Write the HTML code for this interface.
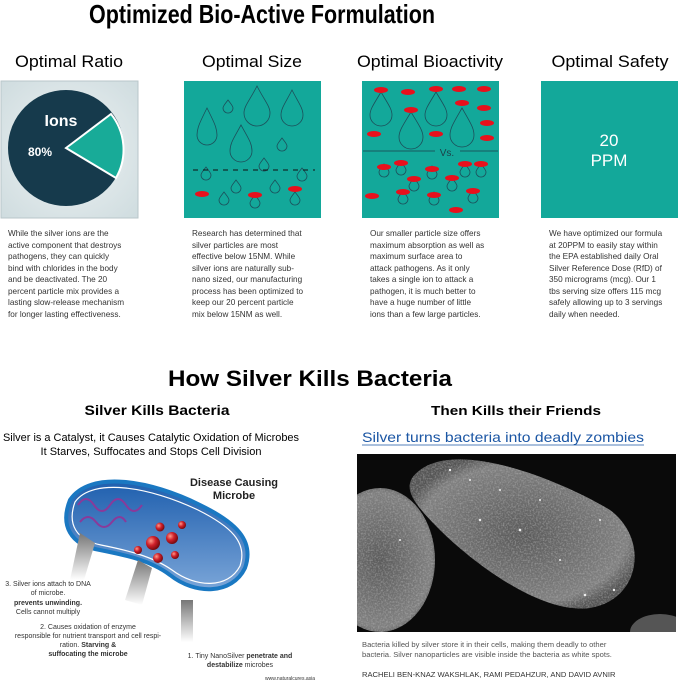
<!DOCTYPE html>
<html><head><meta charset="utf-8"><style>
html,body{margin:0;padding:0;background:#fff;}
svg{display:block;font-family:"Liberation Sans",sans-serif;}
.b{font-family:"Liberation Sans",sans-serif;font-size:8.2px;fill:#333;}
</style></head><body>
<svg width="679" height="682" viewBox="0 0 679 682" xmlns="http://www.w3.org/2000/svg">
<defs>
<radialGradient id="bg1" cx="50%" cy="50%" r="70%"><stop offset="0" stop-color="#eef3f4"/><stop offset="1" stop-color="#cfdcdf"/></radialGradient>
<linearGradient id="cell" x1="0" y1="0" x2="0" y2="1"><stop offset="0" stop-color="#1f5fae"/><stop offset="1" stop-color="#7aa5d8"/></linearGradient>
<radialGradient id="ball" cx="35%" cy="35%" r="65%"><stop offset="0" stop-color="#ff9a8a"/><stop offset="0.5" stop-color="#d0202a"/><stop offset="1" stop-color="#7a0a10"/></radialGradient>
<radialGradient id="bact" cx="50%" cy="50%" r="55%"><stop offset="0" stop-color="#5a5a5a"/><stop offset="0.85" stop-color="#808080"/><stop offset="1" stop-color="#555"/></radialGradient>
<linearGradient id="arr" x1="0" y1="0" x2="0" y2="1"><stop offset="0" stop-color="#777"/><stop offset="1" stop-color="#fff"/></linearGradient>
<filter id="grain" x="0" y="0" width="100%" height="100%"><feTurbulence type="fractalNoise" baseFrequency="0.6" numOctaves="2" seed="3"/><feColorMatrix type="matrix" values="0 0 0 0 0.5  0 0 0 0 0.5  0 0 0 0 0.5  0 0 0 1.2 -0.5"/><feComposite in2="SourceGraphic" operator="in"/></filter>
</defs>

<text x="262" y="23" font-size="26" font-weight="bold" text-anchor="middle" textLength="346" lengthAdjust="spacingAndGlyphs">Optimized Bio-Active Formulation</text>

<text x="69" y="67" font-size="17" text-anchor="middle" textLength="108" lengthAdjust="spacingAndGlyphs">Optimal Ratio</text>
<text x="252" y="67" font-size="17" text-anchor="middle" textLength="100" lengthAdjust="spacingAndGlyphs">Optimal Size</text>
<text x="430" y="67" font-size="17" text-anchor="middle" textLength="146" lengthAdjust="spacingAndGlyphs">Optimal Bioactivity</text>
<text x="610" y="67" font-size="17" text-anchor="middle" textLength="117" lengthAdjust="spacingAndGlyphs">Optimal Safety</text>

<!-- panel 1 -->
<rect x="1" y="81" width="137" height="137" fill="url(#bg1)" stroke="#b8c6ca"/>
<circle cx="66" cy="148" r="58" fill="#163a4c"/>
<path d="M66 148 L111 114 A57 57 0 0 1 116 178 Z" fill="#18ab98" stroke="#fff" stroke-width="2"/>
<text x="61" y="126" font-size="16" font-weight="bold" fill="#fff" text-anchor="middle">Ions</text>
<text x="40" y="156" font-size="12" font-weight="bold" fill="#fff" text-anchor="middle">80%</text>

<!-- panel 2 -->
<rect x="184" y="81" width="137" height="137" fill="#13a89a"/>
<g fill="none" stroke="#1d4f5a" stroke-width="0.8">
<path d="M257 86 C250 100 244 106 244 113 A13 13 0 0 0 270 113 C270 106 264 100 257 86Z"/>
<path d="M292 90 C286 102 281 108 281 115 A11 11 0 0 0 303 115 C303 108 298 102 292 90Z"/>
<path d="M207 108 C200 122 197 128 197 135 A10 10 0 0 0 217 135 C217 128 214 122 207 108Z"/>
<path d="M241 125 C234 138 230 143 230 151 A11 11 0 0 0 252 151 C252 143 248 138 241 125Z"/>
<path d="M228 100 c-3 4 -5 6 -5 8 a5 5 0 0 0 10 0 c0 -2 -2 -4 -5 -8z"/>
<path d="M282 138 c-3 4 -5 6 -5 8 a5 5 0 0 0 10 0 c0 -2 -2 -4 -5 -8z"/>
<path d="M264 158 c-3 4 -5 6 -5 8 a5 5 0 0 0 10 0 c0 -2 -2 -4 -5 -8z"/>
<path d="M206 167 c-3 4 -5 6 -5 8 a5 5 0 0 0 10 0 c0 -2 -2 -4 -5 -8z"/>
<path d="M302 168 c-3 4 -5 6 -5 8 a5 5 0 0 0 10 0 c0 -2 -2 -4 -5 -8z"/>
<path d="M236 180 c-3 4 -5 6 -5 8 a5 5 0 0 0 10 0 c0 -2 -2 -4 -5 -8z"/>
<path d="M275 180 c-3 4 -5 6 -5 8 a5 5 0 0 0 10 0 c0 -2 -2 -4 -5 -8z"/>
<path d="M224 192 c-3 4 -5 6 -5 8 a5 5 0 0 0 10 0 c0 -2 -2 -4 -5 -8z"/>
<path d="M255 195 c-3 4 -5 6 -5 8 a5 5 0 0 0 10 0 c0 -2 -2 -4 -5 -8z"/>
<path d="M295 192 c-3 4 -5 6 -5 8 a5 5 0 0 0 10 0 c0 -2 -2 -4 -5 -8z"/>
</g>
<line x1="193" y1="170" x2="315" y2="170" stroke="#111" stroke-width="1" stroke-dasharray="5,5"/>
<g fill="#e8101c"><ellipse cx="202" cy="194" rx="7" ry="3"/><ellipse cx="255" cy="195" rx="7" ry="3"/><ellipse cx="295" cy="189" rx="7" ry="3"/></g>

<!-- panel 3 -->
<rect x="362" y="81" width="137" height="137" fill="#13a89a"/>
<g fill="none" stroke="#1d4f5a" stroke-width="0.8">
<path d="M381 92 c-7 12 -11 17 -11 23 a11 11 0 0 0 22 0 c0 -6 -4 -11 -11 -23z"/>
<path d="M436 92 c-7 12 -11 17 -11 23 a11 11 0 0 0 22 0 c0 -6 -4 -11 -11 -23z"/>
<path d="M411 112 c-8 13 -12 19 -12 25 a12 12 0 0 0 24 0 c0 -6 -4 -12 -12 -25z"/>
<path d="M462 108 c-8 14 -12 20 -12 27 a12 12 0 0 0 24 0 c0 -7 -4 -13 -12 -27z"/>
</g>
<line x1="363" y1="151" x2="435" y2="151" stroke="#1d3f48" stroke-width="0.8"/>
<line x1="460" y1="151" x2="498" y2="151" stroke="#1d3f48" stroke-width="0.8"/>
<text x="447" y="156" font-size="10" fill="#1d3f48" text-anchor="middle">Vs.</text>
<g fill="none" stroke="#1d4f5a" stroke-width="0.8">
<path d="M384 164 c-3 4 -5 6 -5 8 a5 5 0 0 0 10 0 c0 -2 -2 -4 -5 -8z"/>
<path d="M401 162 c-3 4 -5 6 -5 8 a5 5 0 0 0 10 0 c0 -2 -2 -4 -5 -8z"/>
<path d="M432 166 c-3 4 -5 6 -5 8 a5 5 0 0 0 10 0 c0 -2 -2 -4 -5 -8z"/>
<path d="M414 178 c-3 4 -5 6 -5 8 a5 5 0 0 0 10 0 c0 -2 -2 -4 -5 -8z"/>
<path d="M452 178 c-3 4 -5 6 -5 8 a5 5 0 0 0 10 0 c0 -2 -2 -4 -5 -8z"/>
<path d="M465 164 c-3 4 -5 6 -5 8 a5 5 0 0 0 10 0 c0 -2 -2 -4 -5 -8z"/>
<path d="M481 164 c-3 4 -5 6 -5 8 a5 5 0 0 0 10 0 c0 -2 -2 -4 -5 -8z"/>
<path d="M403 191 c-3 4 -5 6 -5 8 a5 5 0 0 0 10 0 c0 -2 -2 -4 -5 -8z"/>
<path d="M434 192 c-3 4 -5 6 -5 8 a5 5 0 0 0 10 0 c0 -2 -2 -4 -5 -8z"/>
<path d="M473 190 c-3 4 -5 6 -5 8 a5 5 0 0 0 10 0 c0 -2 -2 -4 -5 -8z"/>
</g>
<g fill="#e8101c">
<ellipse cx="381" cy="90" rx="7" ry="3"/><ellipse cx="408" cy="92" rx="7" ry="3"/><ellipse cx="436" cy="89" rx="7" ry="3"/><ellipse cx="459" cy="89" rx="7" ry="3"/><ellipse cx="484" cy="89" rx="7" ry="3"/>
<ellipse cx="411" cy="110" rx="7" ry="3"/><ellipse cx="462" cy="103" rx="7" ry="3"/><ellipse cx="484" cy="108" rx="7" ry="3"/><ellipse cx="487" cy="123" rx="7" ry="3"/><ellipse cx="487" cy="138" rx="7" ry="3"/>
<ellipse cx="374" cy="134" rx="7" ry="3"/><ellipse cx="436" cy="134" rx="7" ry="3"/>
<ellipse cx="384" cy="167" rx="7" ry="3"/><ellipse cx="401" cy="163" rx="7" ry="3"/><ellipse cx="432" cy="169" rx="7" ry="3"/><ellipse cx="414" cy="179" rx="7" ry="3"/><ellipse cx="452" cy="178" rx="7" ry="3"/><ellipse cx="465" cy="164" rx="7" ry="3"/><ellipse cx="481" cy="164" rx="7" ry="3"/>
<ellipse cx="372" cy="196" rx="7" ry="3"/><ellipse cx="403" cy="192" rx="7" ry="3"/><ellipse cx="434" cy="195" rx="7" ry="3"/><ellipse cx="473" cy="191" rx="7" ry="3"/><ellipse cx="456" cy="210" rx="7" ry="3"/>
</g>

<!-- panel 4 -->
<rect x="541" y="81" width="137" height="137" fill="#13a89a"/>
<text x="609" y="146" font-size="17" fill="#fff" text-anchor="middle">20</text>
<text x="609" y="166" font-size="17" fill="#fff" text-anchor="middle">PPM</text>

<g class="b">
<text x="8" y="236">While the silver ions are the</text>
<text x="8" y="248">active component that destroys</text>
<text x="8" y="259">pathogens, they can quickly</text>
<text x="8" y="271">bind with chlorides in the body</text>
<text x="8" y="282">and be deactivated. The 20</text>
<text x="8" y="294">percent particle mix provides a</text>
<text x="8" y="305">lasting slow-release mechanism</text>
<text x="8" y="317">for longer lasting effectiveness.</text>

<text x="192" y="236">Research has determined that</text>
<text x="192" y="248">silver particles are most</text>
<text x="192" y="259">effective below 15NM. While</text>
<text x="192" y="271">silver ions are naturally sub-</text>
<text x="192" y="282">nano sized, our manufacturing</text>
<text x="192" y="294">process has been optimized to</text>
<text x="192" y="305">keep our 20 percent particle</text>
<text x="192" y="317">mix below 15NM as well.</text>

<text x="370" y="236">Our smaller particle size offers</text>
<text x="370" y="248">maximum absorption as well as</text>
<text x="370" y="259">maximum surface area to</text>
<text x="370" y="271">attack pathogens. As it only</text>
<text x="370" y="282">takes a single ion to attack a</text>
<text x="370" y="294">pathogen, it is much better to</text>
<text x="370" y="305">have a huge number of little</text>
<text x="370" y="317">ions than a few large particles.</text>

<text x="549" y="236">We have optimized our formula</text>
<text x="549" y="248">at 20PPM to easily stay within</text>
<text x="549" y="259">the EPA established daily Oral</text>
<text x="549" y="271">Silver Reference Dose (RfD) of</text>
<text x="549" y="282">350 micrograms (mcg). Our 1</text>
<text x="549" y="294">tbs serving size offers 115 mcg</text>
<text x="549" y="305">safely allowing up to 3 servings</text>
<text x="549" y="317">daily when needed.</text>
</g>

<text x="310" y="386" font-size="22" font-weight="bold" text-anchor="middle" textLength="284" lengthAdjust="spacingAndGlyphs">How Silver Kills Bacteria</text>

<!-- left bottom -->
<text x="157" y="415" font-size="14" font-weight="bold" text-anchor="middle" textLength="145" lengthAdjust="spacingAndGlyphs">Silver Kills Bacteria</text>
<text x="151" y="441" font-size="11" text-anchor="middle" textLength="296" lengthAdjust="spacingAndGlyphs">Silver is a Catalyst, it Causes Catalytic Oxidation of Microbes</text>
<text x="151" y="455" font-size="11" text-anchor="middle" textLength="221" lengthAdjust="spacingAndGlyphs">It Starves, Suffocates and Stops Cell Division</text>
<text x="234" y="486" font-size="11" font-weight="bold" fill="#222" text-anchor="middle">Disease Causing</text>
<text x="234" y="499" font-size="11" font-weight="bold" fill="#222" text-anchor="middle">Microbe</text>
<path d="M70 500 C90 470 150 480 200 505 C235 522 255 540 245 568 C232 595 195 595 170 575 C150 560 125 555 100 550 C70 545 60 525 70 500 Z" fill="url(#cell)" stroke="#1a78c2" stroke-width="4"/>
<path d="M75 502 C93 477 150 487 198 510 C230 526 248 542 240 566 C228 589 196 588 172 570 C152 556 126 550 101 545 C76 540 67 524 75 502 Z" fill="none" stroke="#fff" stroke-width="1.2"/>
<path d="M78 505 q8 -12 16 0 t16 0 t16 0 t16 0" fill="none" stroke="#8a3a9a" stroke-width="2"/>
<path d="M80 522 q8 -10 16 0 t16 0 t14 0" fill="none" stroke="#8a3a9a" stroke-width="2"/>
<g fill="url(#ball)"><circle cx="160" cy="527" r="4.5"/><circle cx="182" cy="525" r="4"/><circle cx="172" cy="538" r="6"/><circle cx="153" cy="543" r="7"/><circle cx="138" cy="550" r="4"/><circle cx="158" cy="558" r="5"/><circle cx="175" cy="555" r="4"/></g>
<path d="M70 580 L80 533 L95 543 L84 580 Z" fill="url(#arr)"/>
<path d="M125 600 L138 560 L152 568 L142 605 Z" fill="url(#arr)"/>
<path d="M181 642 L181 600 L193 600 L193 642 Z" fill="url(#arr)"/>
<g fill="#333" font-size="7" text-anchor="middle">
<text x="48" y="586">3. Silver ions attach to DNA</text>
<text x="48" y="595">of microbe.</text>
<text x="48" y="605" font-weight="bold">prevents unwinding.</text>
<text x="48" y="614">Cells cannot multiply</text>
<text x="88" y="629">2. Causes oxidation of enzyme</text>
<text x="88" y="638">responsible for nutrient transport and cell respi-</text>
<text x="88" y="647">ration. <tspan font-weight="bold">Starving &amp;</tspan></text>
<text x="88" y="656" font-weight="bold">suffocating the microbe</text>
<text x="240" y="658">1. Tiny NanoSilver <tspan font-weight="bold">penetrate and</tspan></text>
<text x="240" y="667"><tspan font-weight="bold">destabilize</tspan> microbes</text>
<text x="290" y="680" font-size="5">www.naturalcures.asia</text>
</g>

<!-- right bottom -->
<text x="516" y="415" font-size="13" font-weight="bold" text-anchor="middle" textLength="170" lengthAdjust="spacingAndGlyphs">Then Kills their Friends</text>
<text x="362" y="442" font-size="14" fill="#1b56a4" textLength="282" lengthAdjust="spacingAndGlyphs">Silver turns bacteria into deadly zombies</text>
<line x1="362" y1="445" x2="644" y2="445" stroke="#1b56a4" stroke-width="0.8"/>
<rect x="357" y="454" width="319" height="178" fill="#0a0a0a"/>
<clipPath id="ph"><rect x="357" y="454" width="319" height="178"/></clipPath>
<g clip-path="url(#ph)">
<path d="M420 470 C460 440 560 480 610 510 C650 540 640 600 590 608 C540 615 470 560 440 530 C410 500 400 485 420 470 Z" fill="url(#bact)"/>
<ellipse cx="380" cy="560" rx="55" ry="72" fill="url(#bact)"/>
<ellipse cx="660" cy="632" rx="30" ry="18" fill="#555"/>
<g filter="url(#grain)">
<path d="M420 470 C460 440 560 480 610 510 C650 540 640 600 590 608 C540 615 470 560 440 530 C410 500 400 485 420 470 Z" fill="#888"/>
<ellipse cx="380" cy="560" rx="55" ry="72" fill="#888"/>
</g>
<g fill="#eee"><circle cx="450" cy="470" r="1.2"/><circle cx="480" cy="520" r="1.2"/><circle cx="500" cy="490" r="1"/><circle cx="520" cy="530" r="1.3"/><circle cx="585" cy="595" r="1.3"/><circle cx="614" cy="590" r="1.2"/><circle cx="560" cy="560" r="1"/><circle cx="470" cy="480" r="1"/><circle cx="600" cy="520" r="1"/><circle cx="400" cy="540" r="1"/><circle cx="540" cy="500" r="1"/></g>
</g>
<g font-size="7.6" fill="#555">
<text x="362" y="647">Bacteria killed by silver store it in their cells, making them deadly to other</text>
<text x="362" y="657">bacteria. Silver nanoparticles are visible inside the bacteria as white spots.</text>
<text x="362" y="677" fill="#333">RACHELI BEN-KNAZ WAKSHLAK, RAMI PEDAHZUR, AND DAVID AVNIR</text>
</g>
</svg>
</body></html>
